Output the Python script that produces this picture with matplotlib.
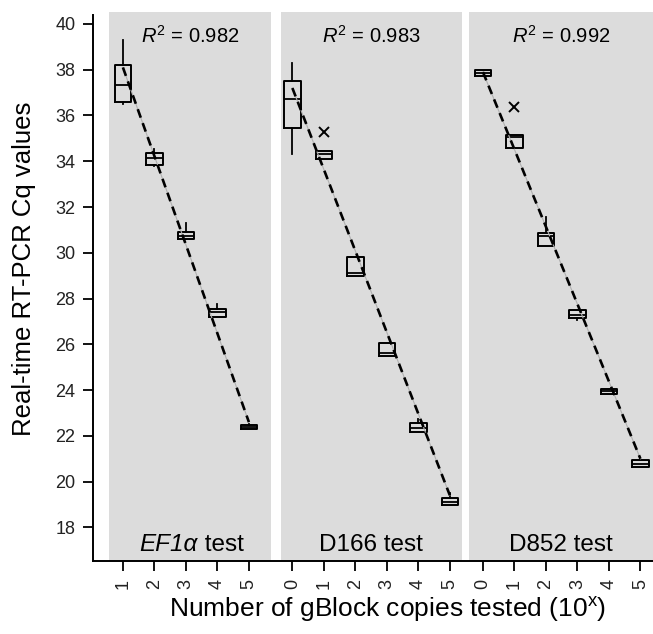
import matplotlib.pyplot as plt

plt.rcParams['font.family'] = ['Liberation Sans', 'DejaVu Sans']
plt.rcParams['mathtext.fontset'] = 'custom'
plt.rcParams['mathtext.rm'] = 'Liberation Sans'
plt.rcParams['mathtext.it'] = 'Liberation Sans:italic'

# ---- data ----
ef1a_exp = [1, 2, 3, 4, 5]
ef1a_q1 = [36.6, 33.85, 30.62, 27.2, 22.29]
ef1a_med = [37.35, 34.15, 30.75, 27.4, 22.38]
ef1a_q3 = [38.2, 34.35, 30.9, 27.55, 22.48]
ef1a_lo = [36.5, 33.8, 30.6, 27.2, 22.29]
ef1a_hi = [39.3, 34.55, 31.3, 27.75, 22.5]
ef1a_out = [[], [], [], [], []]
ef1a_fit = [38.1, 22.6]

d166_exp = [0, 1, 2, 3, 4, 5]
d166_q1 = [35.45, 34.1, 29.0, 25.5, 22.18, 18.98]
d166_med = [36.7, 34.3, 29.1, 25.6, 22.35, 19.12]
d166_q3 = [37.5, 34.45, 29.8, 26.07, 22.57, 19.27]
d166_lo = [34.3, 34.1, 29.0, 25.5, 22.18, 18.98]
d166_hi = [38.3, 34.45, 29.8, 26.07, 22.72, 19.5]
d166_out = [[], [35.27], [], [], [], []]
d166_fit = [37.2, 19.4]

d852_exp = [0, 1, 2, 3, 4, 5]
d852_q1 = [37.73, 34.6, 30.3, 27.14, 23.85, 20.65]
d852_med = [37.85, 35.05, 30.72, 27.3, 23.95, 20.75]
d852_q3 = [37.98, 35.15, 30.88, 27.5, 24.05, 20.95]
d852_lo = [37.73, 34.6, 30.3, 27.05, 23.85, 20.65]
d852_hi = [37.98, 35.15, 31.58, 27.5, 24.05, 20.95]
d852_out = [[], [36.39], [], [], [], []]
d852_fit = [37.9, 21.0]

r2_values = ["0.982", "0.983", "0.992"]
gene_names = ["EF1α", "D166", "D852"]

panels = [
    (ef1a_exp, ef1a_q1, ef1a_med, ef1a_q3, ef1a_lo, ef1a_hi, ef1a_out, ef1a_fit),
    (d166_exp, d166_q1, d166_med, d166_q3, d166_lo, d166_hi, d166_out, d166_fit),
    (d852_exp, d852_q1, d852_med, d852_q3, d852_lo, d852_hi, d852_out, d852_fit),
]

# layout of the three panels on one shared x axis
offsets = [0, 6.38, 12.43]
spans = [(0.55, 5.70), (6.02, 11.75), (12.0, 17.95)]

fig = plt.figure(figsize=(6.53, 6.34), dpi=100)
ax = fig.add_axes([0.1429, 0.1151, 0.8571, 0.8659])

all_pos = []
all_lab = []
for i, (exp, q1, med, q3, lo, hi, out, fit) in enumerate(panels):
    ax.axvspan(spans[i][0], spans[i][1], color='#dcdcdc', lw=0, zorder=0)
    pos = [e + offsets[i] for e in exp]
    stats = []
    for j in range(len(exp)):
        stats.append(dict(med=med[j], q1=q1[j], q3=q3[j], whislo=lo[j], whishi=hi[j], fliers=out[j]))
    ax.bxp(stats, positions=pos, widths=0.53, showcaps=False, manage_ticks=False,
           boxprops=dict(color='k', lw=1.4), medianprops=dict(color='k', lw=1.3),
           whiskerprops=dict(color='k', lw=1.3),
           flierprops=dict(marker='x', markeredgecolor='k', markersize=7.5, markeredgewidth=1.4, linestyle='none'))
    ax.plot([pos[0], pos[-1]], fit, color='#b0b0b0', lw=0.8, zorder=3)
    ax.plot([pos[0], pos[-1]], fit, color='k', lw=1.9, ls=(0, (3.4, 2.2)), zorder=4)
    cx = (spans[i][0] + min(spans[i][1], 17.83)) / 2
    ax.text(cx, 39.48, r"$R^{2}$ = " + r2_values[i], ha='center', va='center', fontsize=14.5)
    if i == 0:
        t1 = ax.text(cx + 0.25, 17.25, gene_names[i], ha='right', va='center', fontsize=17.5, style='italic')
        ax.annotate(" test", xy=(1, 0), xycoords=t1, ha='left', va='bottom', fontsize=17.5)
    else:
        ax.text(cx, 17.25, gene_names[i] + " test", ha='center', va='center', fontsize=17.5)
    all_pos += pos
    all_lab += [str(e) for e in exp]

ax.set_xlim(0.06, 17.83)
ax.set_ylim(16.53, 40.52)
ax.set_yticks(range(18, 41, 2))
ax.set_xticks(all_pos)
ax.set_xticklabels(all_lab, rotation=90)
ax.tick_params(axis='both', length=7, width=1.3, labelsize=13, pad=6, colors='k', labelcolor='#222222')
ax.spines['top'].set_visible(False)
ax.spines['right'].set_visible(False)
ax.spines['left'].set_linewidth(1.4)
ax.spines['bottom'].set_linewidth(1.4)
ax.spines['left'].set_bounds(16.53, 40.4)

ax.set_ylabel("Real-time RT-PCR Cq values", fontsize=18.5)
ax.yaxis.set_label_coords(-0.102, 0.532)
ax.set_xlabel(r"Number of gBlock copies tested (10$^{\mathrm{x}}$)", fontsize=19)
ax.xaxis.set_label_coords(0.525, -0.062)

fig.savefig("out.png", dpi=100)
